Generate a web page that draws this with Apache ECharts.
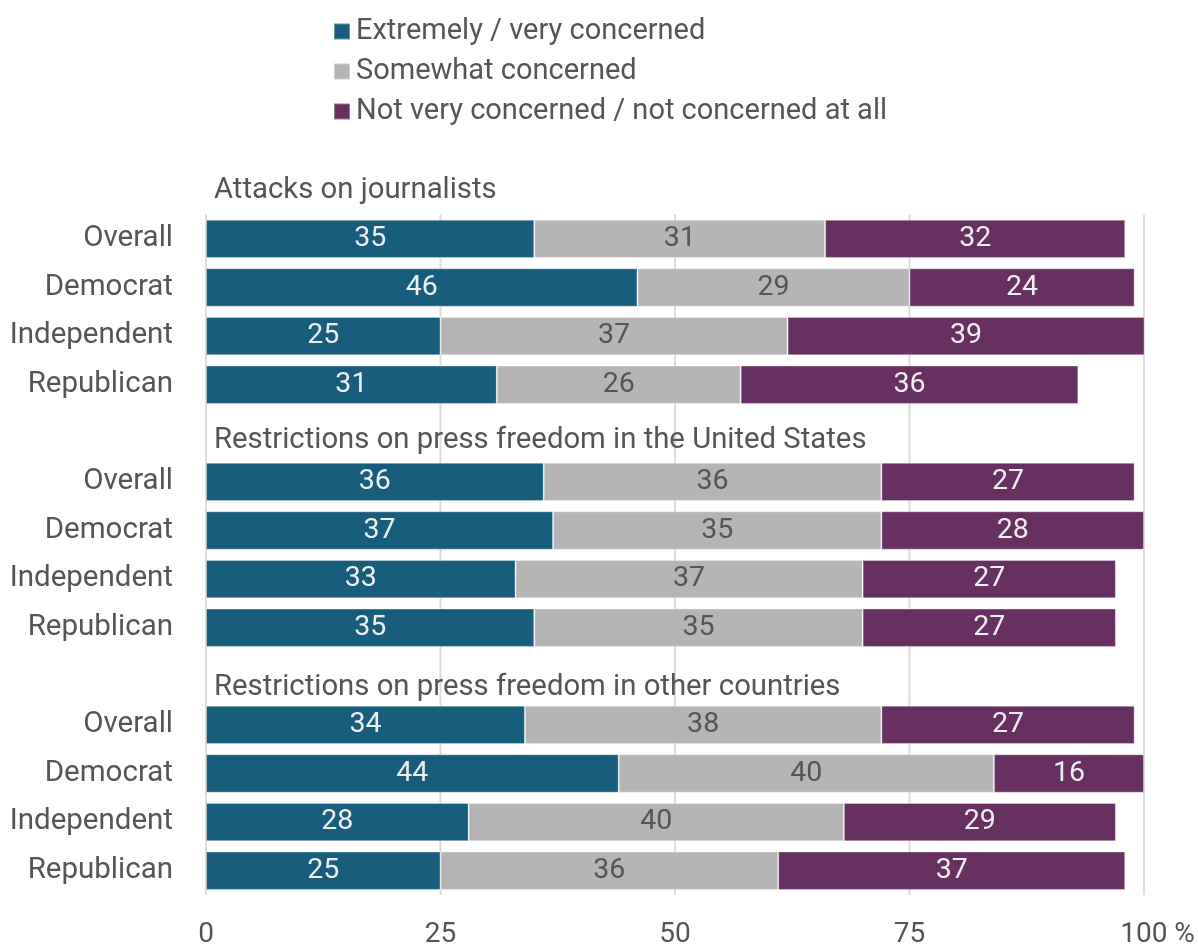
<!DOCTYPE html>
<html>
<head>
<meta charset="utf-8">
<title>Concern about press freedom</title>
<script src="https://cdn.jsdelivr.net/npm/echarts@6/dist/echarts.min.js"></script>
<style>
  html, body { margin: 0; padding: 0; background: #ffffff; }
  #chart { width: 1198px; height: 945px; }
</style>
</head>
<body>
<div id="chart"></div>
<script>
// Survey topics, each followed by its four respondent groups
const topics = [
  'Attacks on journalists',
  'Restrictions on press freedom in the United States',
  'Restrictions on press freedom in other countries'
];
const groups = ['Overall', 'Democrat', 'Independent', 'Republican'];

// Percentages, topic by topic, in the order of the groups above
const extremelyVery = [35, 46, 25, 31, 36, 37, 33, 35, 34, 44, 28, 25];
const somewhat      = [31, 29, 37, 26, 36, 35, 37, 35, 38, 40, 40, 36];
const notConcerned  = [32, 24, 39, 36, 27, 28, 27, 27, 27, 16, 29, 37];

const seriesNames = [
  'Extremely / very concerned',
  'Somewhat concerned',
  'Not very concerned / not concerned at all'
];
const xTicks = [0, 25, 50, 75, 100];

// Build the rows: one heading row per topic, then one row per group
const rowLabels = [];
const headingRows = [];
const rowsA = [], rowsB = [], rowsC = [];
topics.forEach((t, ti) => {
  headingRows.push(rowLabels.length);
  rowLabels.push('');
  rowsA.push('-'); rowsB.push('-'); rowsC.push('-');
  groups.forEach((g, gi) => {
    const k = ti * groups.length + gi;
    rowLabels.push(g);
    rowsA.push(extremelyVery[k]);
    rowsB.push(somewhat[k]);
    rowsC.push(notConcerned[k]);
  });
});
const firstBarRow = 1;
const lastBarRow = rowLabels.length - 1;

const FONT = 'Roboto';
const TEXT = '#555555';
const COLORS = ['#195d7c', '#b5b5b5', '#663060'];
const headingShift = [0, 7, 11];

const chart = echarts.init(document.getElementById('chart'), null, { renderer: 'canvas' });

function barSeries(name, data, color, labelColor) {
  return {
    name: name,
    type: 'bar',
    stack: 'total',
    data: data,
    barCategoryGap: '21%',
    z: 3,
    itemStyle: { color: color, borderColor: 'rgba(255,255,255,0.35)', borderWidth: 1 },
    label: {
      show: true,
      position: 'inside',
      formatter: p => p.value,
      fontFamily: FONT,
      fontSize: 28.5,
      color: labelColor
    },
    emphasis: { disabled: true }
  };
}

const option = {
  animation: false,
  textStyle: { fontFamily: FONT },
  legend: {
    data: seriesNames,
    orient: 'vertical',
    left: 333,
    top: 17,
    padding: 0,
    itemWidth: 16,
    itemHeight: 16,
    itemGap: 11,
    icon: 'rect',
    selectedMode: false,
    textStyle: { fontFamily: FONT, fontSize: 29, color: TEXT, lineHeight: 29, padding: [0, 0, 0, 1] }
  },
  grid: { left: 206, right: 54, top: 166, bottom: 50, containLabel: false, outerBoundsMode: 'none' },
  xAxis: {
    type: 'value',
    min: xTicks[0],
    max: xTicks[xTicks.length - 1],
    interval: xTicks[1] - xTicks[0],
    axisLine: { show: false },
    axisTick: { show: false },
    splitLine: { show: false },
    axisLabel: {
      margin: 26,
      fontFamily: FONT,
      fontSize: 28,
      color: TEXT,
      formatter: v => v === 100 ? '{pct|100 %}' : String(v),
      rich: {
        pct: { fontFamily: FONT, fontSize: 28, color: TEXT, padding: [0, 0, 0, 27] }
      }
    }
  },
  yAxis: {
    type: 'category',
    inverse: true,
    data: rowLabels,
    axisLine: { show: false },
    axisTick: { show: false },
    splitLine: { show: false },
    axisLabel: { margin: 33, fontFamily: FONT, fontSize: 29.5, color: TEXT }
  },
  series: [
    {
      // vertical gridlines spanning only the bar rows
      type: 'custom',
      silent: true,
      z: 1,
      data: xTicks.map(v => [v]),
      renderItem: (params, api) => {
        const x = api.value(0);
        const band = api.size([0, 1])[1];
        const top = api.coord([x, firstBarRow]);
        const bottom = api.coord([x, lastBarRow]);
        return {
          type: 'line',
          shape: { x1: top[0], y1: top[1] - band / 2, x2: bottom[0], y2: bottom[1] + band / 2 },
          style: { stroke: '#dcdcdc', lineWidth: 2 }
        };
      }
    },
    barSeries(seriesNames[0], rowsA, COLORS[0], '#eeeeee'),
    barSeries(seriesNames[1], rowsB, COLORS[1], TEXT),
    barSeries(seriesNames[2], rowsC, COLORS[2], '#eeeeee'),
    {
      // topic headings
      type: 'scatter',
      silent: true,
      symbolSize: 0,
      z: 4,
      itemStyle: { opacity: 1 },
      data: headingRows.map((r, i) => ({
        value: [0, r],
        label: { offset: [0, headingShift[i]] }
      })),
      label: {
        show: true,
        position: 'right',
        distance: 8,
        formatter: p => topics[p.dataIndex],
        fontFamily: FONT,
        fontSize: 29.3,
        color: TEXT,
        opacity: 1
      }
    }
  ]
};

chart.setOption(option);
</script>
</body>
</html>
